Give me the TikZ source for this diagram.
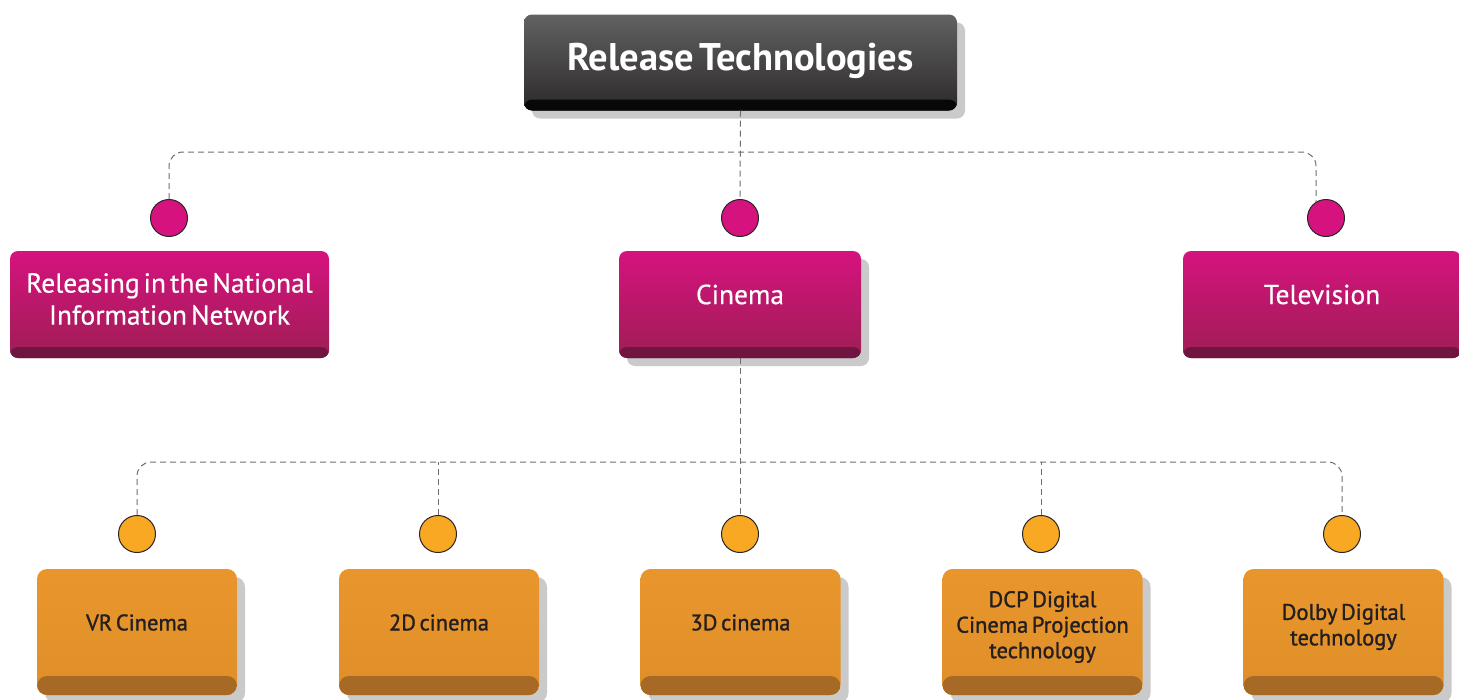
\documentclass[tikz,border=0pt]{standalone}
\usepackage{fontspec}
\setmainfont{PT Sans}
\newfontfamily\medfont[FakeBold=1.2,WordSpace=0.6]{PT Sans}
\newfontfamily\regfont[FakeBold=0.5,WordSpace=0.55]{PT Sans}
\newfontfamily\boldfont[WordSpace=0.5]{PT Sans Bold}
\usetikzlibrary{shadows}
\definecolor{tTop}{RGB}{98,98,98}
\definecolor{tBot}{RGB}{44,41,42}
\definecolor{tBand}{RGB}{8,8,8}
\definecolor{mTop}{RGB}{214,18,127}
\definecolor{mMid}{RGB}{178,28,100}
\definecolor{mBot}{RGB}{158,30,84}
\definecolor{mBand}{RGB}{112,20,64}
\definecolor{oTop}{RGB}{232,150,44}
\definecolor{oBot}{RGB}{224,142,40}
\definecolor{oBand}{RGB}{166,106,38}
\definecolor{oCirc}{RGB}{248,168,34}
\definecolor{txtDark}{RGB}{35,31,32}
\definecolor{shade}{RGB}{202,202,202}
\definecolor{connGray}{RGB}{110,110,110}
\tikzset{
  band/.style 2 args={path picture={\fill[#1] ([yshift=#2]path picture bounding box.south west) rectangle (path picture bounding box.south east);}},
  shadowed/.style={drop shadow={shadow xshift=8pt, shadow yshift=-8pt, fill=shade, opacity=1}},
  titlebox/.style={rounded corners=8pt, inner sep=0pt, top color=tTop, bottom color=tBot, band={tBand}{11pt}, minimum width=433pt, minimum height=96pt},
  mbox/.style={rounded corners=8pt, inner sep=0pt, top color=mTop, middle color=mMid, bottom color=mBot, band={mBand}{11pt}, minimum height=107pt},
  obox/.style={rounded corners=10pt, inner sep=0pt, top color=oTop, bottom color=oBot, band={oBand}{19pt}, minimum width=200pt, minimum height=126pt},
  ttxt/.style={text=white, font=\boldfont\fontsize{38.5}{44}\selectfont},
  mtxt/.style={text=white, align=center, font=\regfont\fontsize{27.5}{32}\selectfont},
  otxt/.style={text=txtDark, align=center, font=\medfont\fontsize{22.5}{25.5}\selectfont},
  mcirc/.style={circle, fill=mTop, draw=black!85, line width=1pt, minimum size=37pt, inner sep=0pt},
  ocirc/.style={circle, fill=oCirc, draw=black!85, line width=1pt, minimum size=37pt, inner sep=0pt},
  conn/.style={draw=connGray, line width=1pt, dash pattern=on 6pt off 4pt}
}
\begin{document}
\begin{tikzpicture}[x=1pt,y=-1pt]
\useasboundingbox (0,0) rectangle (1459,699);
\clip (0,0) rectangle (1459,699);
% title
\node[titlebox, shadowed] (title) at (740.5,62.5) {};
\node[ttxt] (titlet) at ([yshift=2pt]title.center) {Release Technologies};
% level 1 circles
\node[mcirc] (c1) at (169,218) {};
\node[mcirc] (c2) at (740,218) {};
\node[mcirc] (c3) at (1326,218) {};
\coordinate (h1) at (740,152);
\coordinate (t3) at (1316,202);
\draw[conn] (title.south) -- (c2.north);
\draw[conn, rounded corners=14pt] (c1.north) |- (h1) -| (t3);
% level 1 boxes
\node[mbox, minimum width=319pt] (m1) at (169.5,304.5) {};
\node[mbox, minimum width=242pt, shadowed] (m2) at (740,304.5) {};
\node[mbox, minimum width=278pt] (m3) at (1322,304.5) {};
\node[mtxt] (m1t) at ([yshift=5.5pt]m1.center) {Releasing in the National\\Information Network};
\node[mtxt] (m2t) at ([yshift=10pt]m2.center) {Cinema};
\node[mtxt] (m3t) at ([yshift=10pt]m3.center) {Television};
% level 2 circles
\node[ocirc] (o1) at (137,534) {};
\node[ocirc] (o2) at (438,534) {};
\node[ocirc] (o3) at (740,534) {};
\node[ocirc] (o4) at (1041,534) {};
\node[ocirc] (o5) at (1342,534) {};
\coordinate (h2) at (740,462);
\draw[conn] (m2.south) -- (o3.north);
\draw[conn, rounded corners=14pt] (o1.north) |- (h2) -| (o5.north);
\draw[conn] (o2.north) -- (o2.north |- h2);
\draw[conn] (o4.north) -- (o4.north |- h2);
% level 2 boxes
\node[obox, shadowed] (b1) at (137,632) {};
\node[obox, shadowed] (b2) at (439,632) {};
\node[obox, shadowed] (b3) at (740.5,632) {};
\node[obox, shadowed] (b4) at (1042.5,632) {};
\node[obox, shadowed] (b5) at (1343.5,632) {};
\node[otxt] (b1t) at ([yshift=9.5pt]b1.center) {VR Cinema};
\node[otxt] (b2t) at ([yshift=9.5pt]b2.center) {2D cinema};
\node[otxt] (b3t) at ([yshift=9.5pt]b3.center) {3D cinema};
\node[otxt] (b4t) at ([yshift=5pt]b4.center) {DCP Digital\\Cinema Projection\\technology};
\node[otxt] (b5t) at ([yshift=5pt]b5.center) {Dolby Digital\\technology};
\end{tikzpicture}
\end{document}
